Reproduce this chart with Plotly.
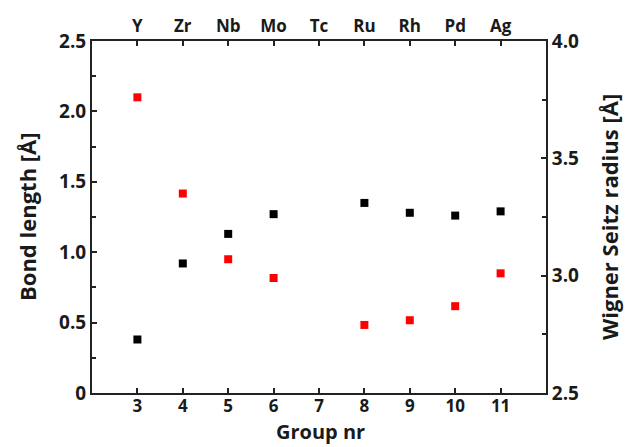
import plotly.graph_objects as go

group_nr = [3, 4, 5, 6, 8, 9, 10, 11]
bond_length = [0.38, 0.92, 1.13, 1.27, 1.35, 1.28, 1.26, 1.29]
ws_radius = [3.76, 3.35, 3.07, 2.99, 2.79, 2.81, 2.87, 3.01]
top_ticks = [3, 4, 5, 6, 7, 8, 9, 10, 11]
elements = ["Y", "Zr", "Nb", "Mo", "Tc", "Ru", "Rh", "Pd", "Ag"]

FONT = "Open Sans"
L, R, T, B = 92, 81, 41, 54
W, H = 627, 447
PW, PH = W - L - R, H - T - B

fig = go.Figure()
fig.add_trace(go.Scatter(x=group_nr, y=bond_length, mode="markers",
                         marker=dict(symbol="square", size=8, color="black"),
                         xaxis="x", yaxis="y", showlegend=False))
fig.add_trace(go.Scatter(x=group_nr, y=ws_radius, mode="markers",
                         marker=dict(symbol="square", size=8, color="#ff0000"),
                         xaxis="x", yaxis="y2", showlegend=False))
# invisible trace so the top element axis is drawn
fig.add_trace(go.Scatter(x=top_ticks, y=[None] * len(top_ticks), mode="markers",
                         xaxis="x2", yaxis="y", showlegend=False, hoverinfo="skip"))

axis_common = dict(showline=True, linecolor="#222", linewidth=2, showgrid=False,
                   zeroline=False, ticks="inside", ticklen=5, tickwidth=1.5,
                   tickcolor="#222", automargin=False)

title_font = dict(family=FONT, size=22, color="#1a1a1a", weight="bold")

fig.update_layout(
    width=W, height=H,
    margin=dict(l=L, r=R, t=T, b=B),
    plot_bgcolor="white", paper_bgcolor="white",
    font=dict(family=FONT, color="#1a1a1a"),
    xaxis=dict(range=[2, 12], tickvals=top_ticks, **axis_common,
               ticklabelstandoff=-3,
               tickfont=dict(size=17, weight="bold")),
    xaxis2=dict(range=[2, 12], overlaying="x", side="top", tickvals=top_ticks,
                ticktext=elements, **axis_common,
                tickfont=dict(size=17, weight="bold")),
    yaxis=dict(range=[0, 2.5], tickvals=[0, 0.5, 1.0, 1.5, 2.0, 2.5],
               ticktext=["0", "0.5", "1.0", "1.5", "2.0", "2.5"], **axis_common,
               minor=dict(tickvals=[0.25, 0.75, 1.25, 1.75, 2.25], ticks="inside",
                          ticklen=4, tickcolor="#222"),
               tickfont=dict(size=19, weight="bold")),
    yaxis2=dict(range=[2.5, 4.0], overlaying="y", side="right",
                tickvals=[2.5, 3.0, 3.5, 4.0], ticktext=["2.5", "3.0", "3.5", "4.0"],
                **axis_common,
                minor=dict(tickvals=[2.75, 3.25, 3.75], ticks="inside",
                           ticklen=4, tickcolor="#222"),
                tickfont=dict(size=19, weight="bold")),
    annotations=[
        dict(text="Group nr", xref="paper", yref="paper",
             x=(320 - L) / PW, y=-(447 - (T + PH)) / PH,
             xanchor="center", yanchor="bottom", showarrow=False, font=dict(title_font, size=20)),
        dict(text="Bond length [Å]", xref="paper", yref="paper",
             x=(27 - L) / PW, y=0.5, textangle=-90,
             xanchor="center", yanchor="middle", showarrow=False, font=title_font),
        dict(text="Wigner Seitz radius [Å]", xref="paper", yref="paper",
             x=(609 - L) / PW, y=0.5, textangle=-90,
             xanchor="center", yanchor="middle", showarrow=False, font=title_font),
    ],
)
fig.write_html("out.html")
